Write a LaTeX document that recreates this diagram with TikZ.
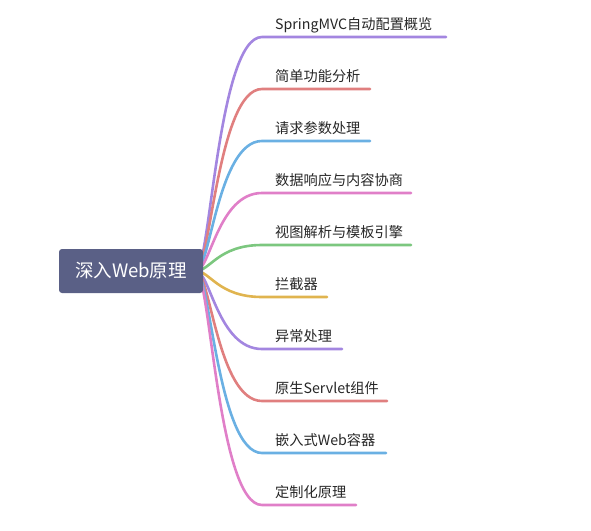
\documentclass[tikz,border=0pt]{standalone}
\usepackage{fontspec}
\setmainfont{Noto Sans CJK SC}
\usetikzlibrary{positioning,backgrounds}

\definecolor{rootfill}{HTML}{5A6086}
\definecolor{brPurple}{HTML}{A386E0}
\definecolor{brRed}{HTML}{E07F7F}
\definecolor{brBlue}{HTML}{6AB0E3}
\definecolor{brPink}{HTML}{E07FC8}
\definecolor{brGreen}{HTML}{7CC77F}
\definecolor{brYellow}{HTML}{E0B44F}

\begin{document}
\begin{tikzpicture}[x = 1pt, y = -1pt,
	root/.style = {fill = rootfill, rounded corners = 3pt, text = white, font = \fontsize{18.5}{22}\selectfont, minimum width = 144pt, minimum height = 44pt, inner sep = 0pt},
	leaf/.style = {anchor = base west, inner sep = 0pt, text = black!85, font = \fontsize{14.2}{17}\selectfont},
	branch/.style = {line width = 2.6pt, line cap = round}]

	% Definitions
	
	\def\startX{196}	% where the branches leave the root
	\def\bendX{262}		% where the branches turn horizontal
	\def\textX{275}
	
	\useasboundingbox (0, 0) rectangle (591, 530);
	
	% Root
	
	\node [root] (root) at (131, 271) {深入Web原理};
	\coordinate (fan) at (\startX, 271);
	
	% Branches, behind the root
	
	\begin{scope}[on background layer]
	\foreach \i/\y/\len/\col/\txt in {
		1/37/446/brPurple/SpringMVC自动配置概览,
		2/89/370/brRed/简单功能分析,
		3/141/370/brBlue/请求参数处理,
		4/193/411/brPink/数据响应与内容协商,
		5/245/411/brGreen/视图解析与模板引擎,
		6/297/327/brYellow/拦截器,
		7/349/342/brPurple/异常处理,
		8/401/387/brRed/原生Servlet组件,
		9/453/386/brBlue/嵌入式Web容器,
		10/505/356/brPink/定制化原理}
	{
		\coordinate (s\i) at (\bendX, \y);
		\coordinate (e\i) at (\len, \y);
		\node [leaf] (t\i) at (\textX, \y - 8) {\txt};
		\draw [branch, \col] (fan) .. controls (210, 271) and (218, \y) .. (s\i) -- (e\i);
	}
	\end{scope}

\end{tikzpicture}
\end{document}
